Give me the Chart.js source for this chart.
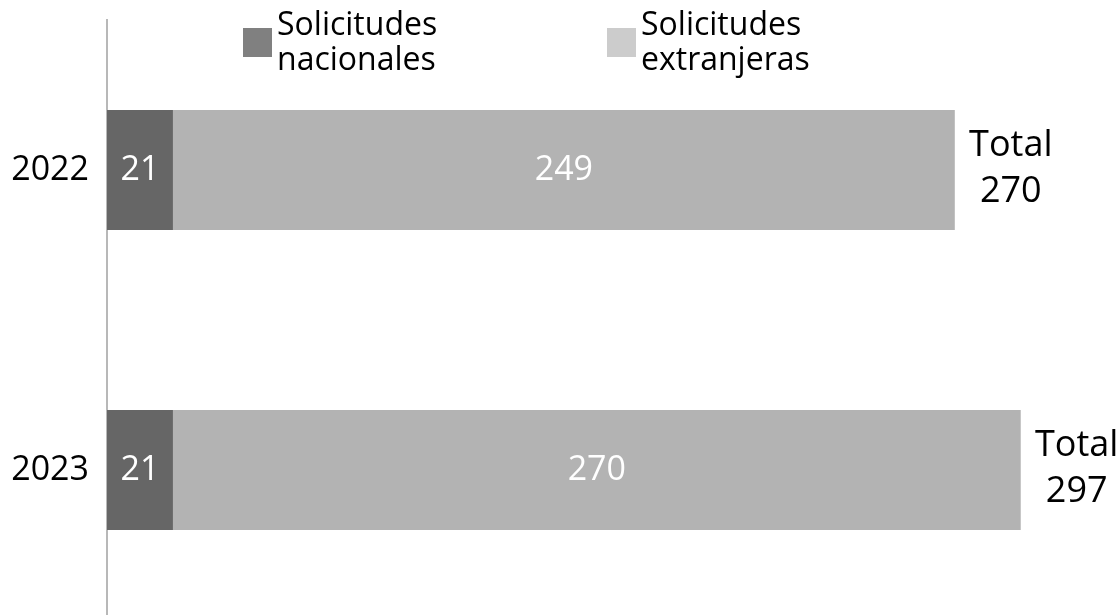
<!DOCTYPE html>
<html>
<head>
<meta charset="utf-8">
<script src="https://cdn.jsdelivr.net/npm/chart.js@4.4.1/dist/chart.umd.min.js"></script>
<style>
  html, body { margin: 0; padding: 0; background: #fff; overflow: hidden; }
  #wrap { width: 1117px; height: 620px; position: relative; }
</style>
</head>
<body>
<div id="wrap"><canvas id="chart"></canvas></div>
<script>
const years = ['2022', '2023'];
const nacionales = [21, 21];
const extranjeras = [249, 270];
const totals = [270, 297];
const legendNames = [['Solicitudes', 'nacionales'], ['Solicitudes', 'extranjeras']];

const colors = {
  dark: '#666666',
  light: '#b3b3b3',
  legendDark: '#808080',
  legendLight: '#cccccc',
  axis: '#b8b8b8'
};
const fontFamily = '"Open Sans", "Noto Sans", sans-serif';

// white value labels inside each segment + "Total" labels past the bar end
const barLabels = {
  id: 'barLabels',
  afterDatasetsDraw(chart) {
    const ctx = chart.ctx;
    ctx.save();
    ctx.textAlign = 'center';
    ctx.textBaseline = 'middle';
    ctx.font = '34px ' + fontFamily;
    ctx.fillStyle = '#ffffff';
    chart.data.datasets.forEach((ds, i) => {
      chart.getDatasetMeta(i).data.forEach((bar, j) => {
        const c = bar.getCenterPoint();
        ctx.fillText(String(ds.data[j]), c.x, c.y);
      });
    });
    const last = chart.getDatasetMeta(1).data;
    ctx.fillStyle = '#000000';
    ctx.font = '36px ' + fontFamily;
    last.forEach((bar, j) => {
      const x = bar.x + 56;
      ctx.fillText('Total', x, bar.y - 24);
      ctx.fillText(String(totals[j]), x, bar.y + 22);
    });
    ctx.restore();
  }
};

// two-line legend at the top
const topLegend = {
  id: 'topLegend',
  afterDraw(chart) {
    const ctx = chart.ctx;
    const items = [
      { x: 243, fill: colors.legendDark, text: legendNames[0] },
      { x: 607, fill: colors.legendLight, text: legendNames[1] }
    ];
    ctx.save();
    ctx.font = '32px ' + fontFamily;
    ctx.textBaseline = 'middle';
    ctx.textAlign = 'left';
    items.forEach(it => {
      ctx.fillStyle = it.fill;
      ctx.fillRect(it.x, 28, 29, 29);
      ctx.fillStyle = '#000000';
      ctx.fillText(it.text[0], it.x + 34, 26);
      ctx.fillText(it.text[1], it.x + 34, 61);
    });
    ctx.restore();
  }
};

new Chart(document.getElementById('chart'), {
  type: 'bar',
  data: {
    labels: years,
    datasets: [
      { label: 'Solicitudes nacionales', data: nacionales, backgroundColor: colors.dark },
      { label: 'Solicitudes extranjeras', data: extranjeras, backgroundColor: colors.light }
    ]
  },
  options: {
    indexAxis: 'y',
    responsive: true,
    maintainAspectRatio: false,
    animation: false,
    layout: { padding: { top: 20, right: 68, bottom: 0, left: 0 } },
    datasets: {
      bar: { categoryPercentage: 1, barPercentage: 0.4, borderWidth: 0 }
    },
    plugins: {
      legend: { display: false },
      tooltip: { enabled: false }
    },
    scales: {
      x: {
        stacked: true,
        min: 0,
        max: 300,
        display: false
      },
      y: {
        stacked: true,
        grid: { display: false },
        border: { display: true, color: colors.axis, width: 2 },
        ticks: {
          color: '#000000',
          padding: 10,
          font: { size: 34, family: fontFamily }
        },
        afterFit(scale) {
          scale.width = 107;
          scale.paddingTop = 0;
          scale.paddingBottom = 0;
        }
      }
    }
  },
  plugins: [barLabels, topLegend]
});
</script>
</body>
</html>
